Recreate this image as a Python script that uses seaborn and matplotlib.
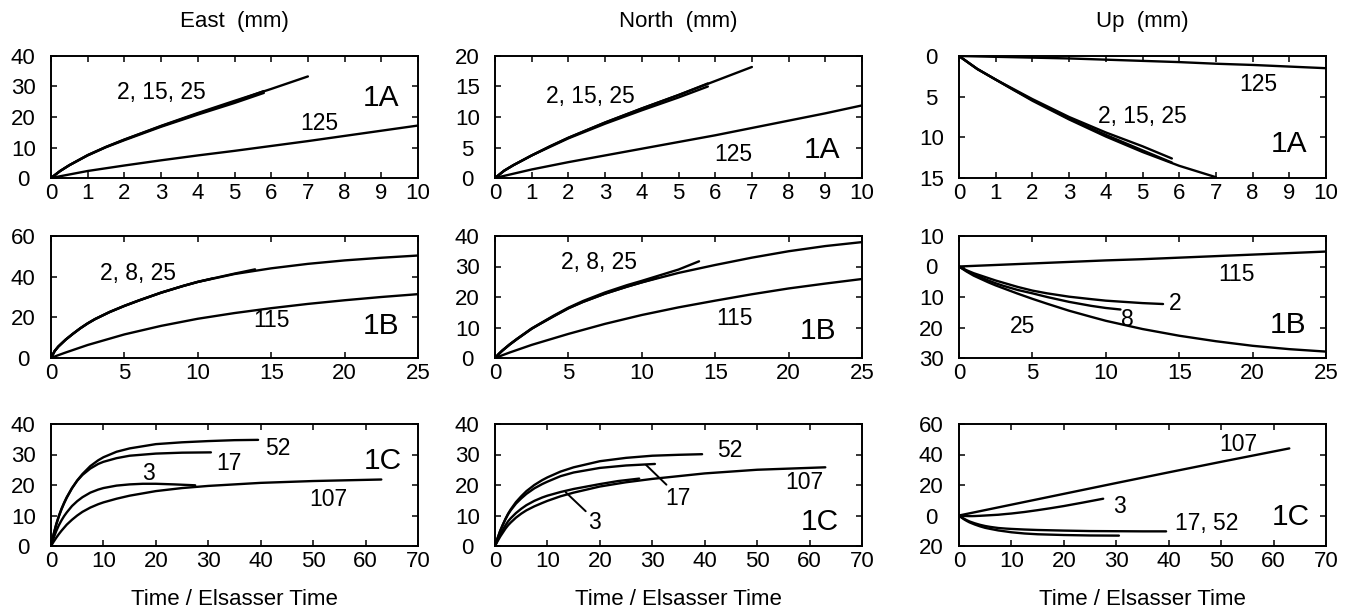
import matplotlib
matplotlib.use("Agg")
import matplotlib.pyplot as plt
from matplotlib.ticker import FuncFormatter, MultipleLocator
import seaborn as sns
import pandas as pd

# ---------------------------------------------------------------------------
# Surface displacement (mm) versus time in Elsasser times.
# Up: positive = uplift, negative = subsidence (axis labels show magnitudes).
# ---------------------------------------------------------------------------

# ---- Model 1A --------------------------------------------------------------
t_1a_a = [0, 0.25, 0.5, 1, 1.5, 2, 3, 4, 5, 6, 7]
t_1a_b = [0, 0.25, 0.5, 1, 1.5, 2, 3, 4, 5, 5.8]
t_1a_c = [0, 0.25, 0.5, 1, 1.5, 2, 3, 4, 5, 5.8]
t_1a_125 = [0, 1, 2, 3, 4, 5, 6, 7, 8, 9, 10]

east_1a_a = [0, 2.3, 4.2, 7.5, 10.2, 12.6, 17.1, 21.3, 25.3, 29.2, 33.3]
east_1a_b = [0, 2.3, 4.2, 7.5, 10.2, 12.6, 17.0, 21.1, 25.0, 28.5]
east_1a_c = [0, 2.3, 4.2, 7.4, 10.1, 12.4, 16.8, 20.8, 24.6, 27.9]
east_1a_125 = [0, 2.3, 4.1, 5.8, 7.4, 8.9, 10.5, 12.1, 13.8, 15.5, 17.2]

north_1a_a = [0, 1.2, 2.1, 3.7, 5.2, 6.6, 9.1, 11.4, 13.6, 15.9, 18.2]
north_1a_b = [0, 1.2, 2.1, 3.7, 5.2, 6.6, 9.1, 11.4, 13.6, 15.5]
north_1a_c = [0, 1.2, 2.1, 3.7, 5.1, 6.5, 8.9, 11.1, 13.2, 15.0]
north_1a_125 = [0, 1.4, 2.6, 3.7, 4.8, 5.9, 7.0, 8.2, 9.4, 10.6, 11.9]

up_1a_a = [0, -0.8, -1.6, -2.9, -4.2, -5.5, -7.8, -9.9, -11.8, -13.5, -14.9]
up_1a_b = [0, -0.8, -1.6, -2.9, -4.1, -5.3, -7.5, -9.4, -11.1, -12.6]
up_1a_c = [0, -0.8, -1.6, -2.9, -4.2, -5.4, -7.7, -9.7, -11.6, -13.1]
up_1a_125 = [0, -0.1, -0.2, -0.3, -0.45, -0.6, -0.75, -0.95, -1.1, -1.3, -1.5]

# ---- Model 1B --------------------------------------------------------------
t_1b_25 = [0, 0.25, 0.5, 1, 1.5, 2, 2.5, 3, 4, 5, 6, 7.5, 9, 10,
           12.5, 15, 17.5, 20, 22.5, 25]
t_1b_2 = [0, 0.25, 0.5, 1, 1.5, 2, 2.5, 3, 4, 5, 6, 7.5, 9, 10, 12.5, 13.9]
t_1b_8 = [0, 0.25, 0.5, 1, 1.5, 2, 2.5, 3, 4, 5, 6, 7.5, 9, 10, 11]
t_1b_115 = [0, 0.5, 1, 2.5, 5, 7.5, 10, 12.5, 15, 17.5, 20, 22.5, 25]

east_1b_25 = [0, 3.4, 5.6, 9.0, 11.9, 14.6, 17.0, 19.1, 22.6, 25.6, 28.3,
              32.1, 35.4, 37.4, 41.3, 44.1, 46.3, 48.0, 49.3, 50.4]
east_1b_2 = [0, 3.5, 5.7, 9.1, 12.0, 14.7, 17.1, 19.2, 22.7, 25.7, 28.4,
             32.2, 35.5, 37.5, 41.5, 43.6]
east_1b_8 = [0, 3.4, 5.6, 9.0, 11.9, 14.6, 17.0, 19.1, 22.6, 25.6, 28.3,
             32.1, 35.4, 37.4, 39.1]
east_1b_115 = [0, 1.4, 2.7, 6.4, 11.6, 15.8, 19.3, 22.1, 24.5, 26.6, 28.4, 30.0, 31.4]

north_1b_25 = [0, 1.3, 2.4, 4.4, 6.2, 7.9, 9.6, 11.0, 13.7, 16.3, 18.4,
               21.1, 23.4, 24.8, 27.9, 30.5, 32.9, 35.0, 36.7, 38.0]
north_1b_2 = [0, 1.3, 2.5, 4.5, 6.3, 8.0, 9.7, 11.1, 13.9, 16.5, 18.7,
              21.5, 23.9, 25.3, 29.0, 31.7]
north_1b_8 = [0, 1.3, 2.4, 4.4, 6.2, 7.9, 9.6, 11.0, 13.7, 16.3, 18.4,
              21.1, 23.4, 24.8, 26.2]
north_1b_115 = [0, 0.9, 1.8, 4.3, 7.9, 11.2, 14.1, 16.6, 18.8, 20.9, 22.8, 24.4, 25.9]

up_1b_25 = [0, -0.8, -1.6, -3.0, -4.1, -5.2, -6.2, -7.1, -8.9, -10.6, -12.2,
            -14.5, -16.5, -17.8, -20.5, -22.7, -24.5, -26.0, -27.1, -27.9]
up_1b_2 = [0, -0.6, -1.2, -2.2, -3.0, -3.8, -4.6, -5.3, -6.7, -7.9, -8.8,
           -9.9, -10.7, -11.2, -12.0, -12.3]
up_1b_8 = [0, -0.7, -1.4, -2.6, -3.6, -4.6, -5.5, -6.3, -7.7, -8.8, -10.0,
           -11.6, -12.9, -13.6, -14.1]
up_1b_115 = [0, 0.1, 0.2, 0.5, 1.0, 1.5, 2.0, 2.4, 2.9, 3.4, 3.9, 4.4, 4.9]

# ---- Model 1C --------------------------------------------------------------
t_1c_3 = [0, 0.5, 1, 1.5, 2, 2.5, 3, 4, 5, 6, 7.5, 9, 10, 12.5, 15, 17.5,
          20, 23.5, 27.5]
t_1c_17 = [0, 0.5, 1, 1.5, 2, 2.5, 3, 4, 5, 6, 7.5, 9, 10, 12.5, 15, 20,
           25, 30.5]
t_1c_52 = [0, 0.5, 1, 1.5, 2, 2.5, 3, 4, 5, 6, 7.5, 9, 10, 12.5, 15, 20,
           25, 30, 35, 39.5]
t_1c_107 = [0, 0.5, 1, 1.5, 2, 2.5, 3, 4, 5, 6, 7.5, 9, 10, 12.5, 15, 20,
            25, 30, 40, 50, 63]
t_1c_107_up = [0, 10, 20, 30, 40, 50, 63]

east_1c_3 = [0, 2.6, 4.9, 6.8, 8.4, 9.8, 11.0, 13.1, 14.7, 16.0, 17.5, 18.5,
             19.0, 19.8, 20.2, 20.4, 20.4, 20.2, 19.9]
east_1c_17 = [0, 3.9, 7.2, 9.9, 12.2, 14.2, 16.0, 19.0, 21.4, 23.3, 25.4,
              26.9, 27.6, 28.8, 29.6, 30.3, 30.6, 30.7]
east_1c_52 = [0, 3.8, 7.0, 9.7, 12.0, 14.0, 15.8, 18.9, 21.5, 23.6, 26.2,
              28.1, 29.1, 30.9, 32.0, 33.4, 34.0, 34.4, 34.7, 34.8]
east_1c_107 = [0, 1.4, 2.7, 3.9, 5.0, 6.0, 7.0, 8.6, 10.0, 11.2, 12.6, 13.7,
               14.3, 15.5, 16.5, 18.0, 19.0, 19.7, 20.7, 21.3, 21.8]

north_1c_3 = [0, 2.0, 3.8, 5.3, 6.8, 8.1, 9.1, 10.8, 12.2, 13.4, 14.8, 15.9,
              16.5, 17.7, 18.7, 19.5, 20.3, 21.3, 22.1]
north_1c_17 = [0, 2.6, 5.0, 7.0, 8.8, 10.4, 11.7, 13.9, 15.6, 17.1, 18.9,
               20.3, 21.1, 22.9, 24.1, 25.6, 26.4, 26.9]
north_1c_52 = [0, 2.6, 5.0, 7.0, 8.9, 10.6, 12.0, 14.4, 16.3, 18.0, 20.0,
               21.6, 22.5, 24.4, 25.8, 27.8, 28.9, 29.6, 29.9, 30.1]
north_1c_107 = [0, 1.6, 3.1, 4.4, 5.7, 6.8, 7.7, 9.3, 10.6, 11.7, 13.0, 14.1,
                14.8, 16.3, 17.5, 19.5, 20.9, 22.0, 23.8, 25.0, 25.8]

up_1c_3 = [0, -0.2, -0.3, -0.35, -0.4, -0.4, -0.35, -0.2, 0, 0.2, 0.5, 1.0,
           1.3, 2.3, 3.5, 4.8, 6.2, 8.4, 11.0]
up_1c_17 = [0, -1.4, -2.6, -3.6, -4.5, -5.2, -5.9, -7.1, -8.1, -8.8, -9.8,
            -10.5, -11.0, -11.8, -12.3, -12.8, -13.1, -13.2]
up_1c_52 = [0, -1.2, -2.2, -3.1, -3.9, -4.5, -5.1, -6.1, -6.9, -7.5, -8.2,
            -8.6, -8.8, -9.2, -9.5, -9.9, -10.2, -10.3, -10.4, -10.4]
up_1c_107 = [0, 7.1, 14.2, 21.3, 28.3, 35.2, 44.0]

# ---- Axis ranges -----------------------------------------------------------
column_titles = ["East  (mm)", "North  (mm)", "Up  (mm)"]
x_label = "Time / Elsasser Time"
x_limits = [(0, 10), (0, 25), (0, 70)]
x_steps = [1, 5, 10]
y_limits = [
    [(0, 40), (0, 20), (-15, 0)],
    [(0, 60), (0, 40), (-30, 10)],
    [(0, 40), (0, 40), (-20, 60)],
]
y_steps = [
    [10, 5, 5],
    [20, 10, 10],
    [10, 10, 20],
]

# ---------------------------------------------------------------------------
sns.set_theme(style="ticks")
plt.rcParams["font.family"] = ["Liberation Sans", "DejaVu Sans"]
plt.rcParams["axes.linewidth"] = 1.4
plt.rcParams["axes.edgecolor"] = "black"
plt.rcParams["text.color"] = "black"

W, H = 1363, 615
fig = plt.figure(figsize=(W / 100, H / 100), dpi=100)

col_left = [51, 495, 959]
col_width = 367
row_top = [56, 236, 424]
row_height = 122

axes = [[None] * 3 for _ in range(3)]
for r in range(3):
    for c in range(3):
        ax = fig.add_axes([col_left[c] / W, 1 - (row_top[r] + row_height) / H,
                           col_width / W, row_height / H])
        axes[r][c] = ax

LW = 1.7
TICK_FS = 16
LABEL_FS = 16.5
PANEL_FS = 21.5
TITLE_FS = 16


def curve(ax, t, y):
    df = pd.DataFrame({"t": t, "y": y})
    sns.lineplot(data=df, x="t", y="y", ax=ax, color="black", linewidth=LW,
                 sort=False, estimator=None, legend=False)


def label(ax, x, y, s):
    ax.text(x, y, s, ha="center", va="center_baseline", fontsize=LABEL_FS,
            color="black")


def panel(ax, x, y, s):
    ax.text(x, y, s, ha="center", va="center_baseline", fontsize=PANEL_FS,
            color="black")


def leader(ax, start, end):
    ax.annotate("", xy=start, xytext=end,
                arrowprops=dict(arrowstyle="-", color="black", lw=1.4,
                                shrinkA=0, shrinkB=0))


# Row 1: model 1A
for t, y in [(t_1a_a, east_1a_a), (t_1a_b, east_1a_b), (t_1a_c, east_1a_c), (t_1a_125, east_1a_125)]:
    curve(axes[0][0], t, y)
for t, y in [(t_1a_a, north_1a_a), (t_1a_b, north_1a_b), (t_1a_c, north_1a_c), (t_1a_125, north_1a_125)]:
    curve(axes[0][1], t, y)
for t, y in [(t_1a_a, up_1a_a), (t_1a_b, up_1a_b), (t_1a_c, up_1a_c), (t_1a_125, up_1a_125)]:
    curve(axes[0][2], t, y)

label(axes[0][0], 3.0, 28.7, "2, 15, 25")
label(axes[0][0], 7.3, 18.8, "125")
panel(axes[0][0], 9.0, 27.3, "1A")
label(axes[0][1], 2.6, 13.8, "2, 15, 25")
label(axes[0][1], 6.5, 4.2, "125")
panel(axes[0][1], 8.9, 5.0, "1A")
label(axes[0][2], 5.0, -7.1, "2, 15, 25")
label(axes[0][2], 8.15, -3.25, "125")
panel(axes[0][2], 9.0, -10.5, "1A")

# Row 2: model 1B
for t, y in [(t_1b_2, east_1b_2), (t_1b_8, east_1b_8), (t_1b_25, east_1b_25), (t_1b_115, east_1b_115)]:
    curve(axes[1][0], t, y)
for t, y in [(t_1b_2, north_1b_2), (t_1b_8, north_1b_8), (t_1b_25, north_1b_25), (t_1b_115, north_1b_115)]:
    curve(axes[1][1], t, y)
for t, y in [(t_1b_2, up_1b_2), (t_1b_8, up_1b_8), (t_1b_25, up_1b_25), (t_1b_115, up_1b_115)]:
    curve(axes[1][2], t, y)

label(axes[1][0], 5.9, 43.0, "2, 8, 25")
label(axes[1][0], 15.0, 19.8, "115")
panel(axes[1][0], 22.5, 17.4, "1B")
label(axes[1][1], 7.1, 32.0, "2, 8, 25")
label(axes[1][1], 16.3, 13.8, "115")
panel(axes[1][1], 22.0, 9.9, "1B")
label(axes[1][2], 18.9, -1.9, "115")
label(axes[1][2], 14.7, -11.2, "2")
label(axes[1][2], 11.5, -16.7, "8")
label(axes[1][2], 4.3, -18.8, "25")
panel(axes[1][2], 22.4, -18.3, "1B")

# Row 3: model 1C
for t, y in [(t_1c_3, east_1c_3), (t_1c_17, east_1c_17), (t_1c_52, east_1c_52), (t_1c_107, east_1c_107)]:
    curve(axes[2][0], t, y)
for t, y in [(t_1c_3, north_1c_3), (t_1c_17, north_1c_17), (t_1c_52, north_1c_52), (t_1c_107, north_1c_107)]:
    curve(axes[2][1], t, y)
for t, y in [(t_1c_3, up_1c_3), (t_1c_17, up_1c_17), (t_1c_52, up_1c_52), (t_1c_107_up, up_1c_107)]:
    curve(axes[2][2], t, y)

label(axes[2][0], 43.3, 32.7, "52")
label(axes[2][0], 34.0, 27.9, "17")
label(axes[2][0], 18.5, 24.5, "3")
label(axes[2][0], 52.8, 16.1, "107")
panel(axes[2][0], 63.3, 29.0, "1C")

label(axes[2][1], 44.8, 32.0, "52")
label(axes[2][1], 59.0, 21.5, "107")
label(axes[2][1], 34.9, 16.5, "17")
label(axes[2][1], 18.9, 8.4, "3")
panel(axes[2][1], 62.0, 8.8, "1C")
leader(axes[2][1], (28.8, 26.6), (32.7, 20.1))
leader(axes[2][1], (13.5, 17.6), (17.3, 11.4))

label(axes[2][2], 30.6, 7.7, "3")
label(axes[2][2], 47.2, -3.3, "17, 52")
label(axes[2][2], 53.3, 48.5, "107")
panel(axes[2][2], 63.2, 1.1, "1C")

# ---- Axis styling ----------------------------------------------------------
abs_fmt = FuncFormatter(lambda v, pos: f"{abs(v):g}")
for r in range(3):
    for c in range(3):
        ax = axes[r][c]
        ax.set_xlim(*x_limits[r])
        ax.set_ylim(*y_limits[r][c])
        ax.xaxis.set_major_locator(MultipleLocator(x_steps[r]))
        ax.yaxis.set_major_locator(MultipleLocator(y_steps[r][c]))
        ax.xaxis.set_major_formatter(FuncFormatter(lambda v, pos: f"{v:g}"))
        ax.yaxis.set_major_formatter(abs_fmt)
        ax.tick_params(axis="both", which="major", direction="in", top=True,
                       right=True, length=4.5, width=1.1, color="black",
                       labelsize=TICK_FS, labelcolor="black")
        ax.tick_params(axis="x", pad=3.5)
        ax.tick_params(axis="y", pad=20)
        for lab in ax.get_yticklabels():
            lab.set_horizontalalignment("center")
        for sp in ax.spines.values():
            sp.set_visible(True)
            sp.set_linewidth(1.4)
            sp.set_color("black")
        ax.set_ylabel("")
        if r == 2:
            ax.set_xlabel(x_label, fontsize=TITLE_FS, labelpad=12, color="black")
        else:
            ax.set_xlabel("")
        if r == 0:
            ax.set_title(column_titles[c], fontsize=TITLE_FS, pad=21, color="black")

fig.savefig("out.png", dpi=100, facecolor="white")
